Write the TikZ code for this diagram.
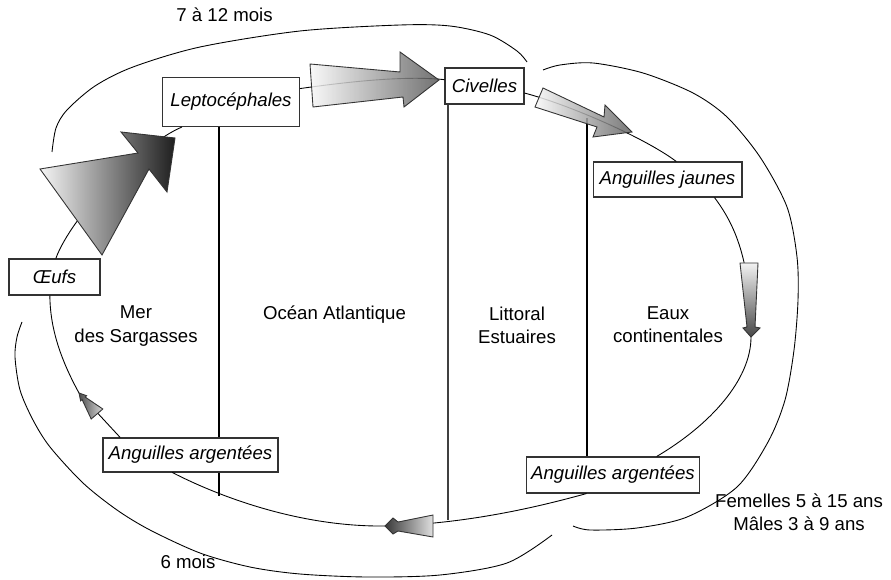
\documentclass[tikz,border=0pt]{standalone}
\usepackage{fontspec}
\setmainfont{Liberation Sans}
\usetikzlibrary{calc}

\newcommand{\labelsize}{\fontsize{10.6}{13.2}\selectfont}

\begin{document}
\begin{tikzpicture}[x=0.02cm,y=-0.02cm]
\tikzset{
  stagebox/.style={draw=black!80,line width=0.6pt,fill=white,inner sep=1pt,font=\labelsize\itshape},
  zonelabel/.style={align=center,font=\labelsize,inner sep=0pt},
  flowedge/.style={draw=black,line width=0.5pt},
  timeline/.style={draw=black,line width=0.5pt},
  zoneline/.style={draw=black,line width=1pt},
  coastline/.style={draw=black!75,line width=0.7pt},
  fatarrow/.style={draw=black!80,line width=0.5pt,line join=miter}
}
\useasboundingbox (0,0) rectangle (891,580);
% stages of the cycle
\node[stagebox,minimum width=1.82cm,minimum height=0.72cm] (oeufs) at (54.5,277) {Œufs};
\node[stagebox,minimum width=2.74cm,minimum height=0.98cm] (lepto) at (231,102) {Leptocéphales};
\node[stagebox,minimum width=1.58cm,minimum height=0.72cm] (civelles) at (484.5,86) {Civelles};
\node[stagebox,minimum width=2.98cm,minimum height=0.70cm] (jaunes) at (667.5,179.5) {Anguilles jaunes};
\node[stagebox,minimum width=3.50cm,minimum height=0.68cm] (argL) at (190.5,455) {Anguilles argentées};
\node[stagebox,minimum width=3.46cm,minimum height=0.72cm] (argR) at (613,475) {Anguilles argentées};
% zones
\node[zonelabel] (sargasses) at (136,326) {Mer\\des Sargasses};
\node[zonelabel] (atlantique) at (334.5,315) {Océan Atlantique};
\node[zonelabel] (littoral) at (517,325) {Littoral\\Estuaires};
\node[zonelabel] (continent) at (668,325) {Eaux\\continentales};
% durations
\node[zonelabel] (duree1) at (224.5,15) {7 à 12 mois};
\node[zonelabel] (duree2) at (188,562) {6 mois};
\node[zonelabel] (duree3) at (799,512) {Femelles 5 à 15 ans\\Mâles 3 à 9 ans};
\coordinate (sepA) at (219,496);
\coordinate (sepB) at (448,520);
\coordinate (sepC) at (587,118);
\coordinate (tipD) at (751,337);
\coordinate (tipF) at (385,526);
\coordinate (tipG) at (79,393);
% zone boundaries
\draw[zoneline] (sepA |- lepto.south) -- (sepA |- argL.north);
\draw[zoneline] (sepA |- argL.south) -- (sepA);
\draw[coastline] (sepB |- civelles.south) -- (sepB);
\draw[zoneline] (sepC) -- (sepC |- argR.north);
% time brackets
\draw[timeline] plot[smooth] coordinates {(52,152) (56,128) (67,110) (95,86) (133,67) (200,47) (300,31) (400,25) (450,26) (490,35) (517,51) (527,62)};
\draw[timeline] plot[smooth] coordinates {(543,70) (560,65) (593,63) (643,73) (693,93) (727,117) (760,157) (787,207) (797,257) (798,300) (794,350) (785,400) (768,442) (737,487) (687,517) (637,528) (590,530) (573,526)};
\draw[timeline] plot[smooth] coordinates {(22,322) (17,337) (15,357) (20,390) (33,420) (50,447) (83,483) (117,510) (150,530) (200,553) (250,567) (300,574) (367,577) (440,575) (507,563) (552,535)};
% the cycle
\draw[flowedge] (oeufs.86) .. controls (72,215) and (140,145) .. (lepto.207);
\draw[flowedge] (lepto.11) .. controls (360,80) and (410,76) .. (civelles.171);
\draw[flowedge] (civelles.-10) .. controls (570,105) and (645,138) .. (jaunes.64);
\draw[flowedge] (jaunes.-21) .. controls (735,225) and (751,260) .. (tipD) .. controls (751,380) and (710,425) .. (argR.23);
\draw[flowedge] (argR.-145) .. controls (545,505) and (470,524) .. (tipF) .. controls (300,527) and (220,497) .. (argL.-136);
\draw[flowedge] (argL.166) -- (tipG) .. controls (62,362) and (50,330) .. (oeufs.-104);
% shaded arrows
\draw[fatarrow,left color=black!4,right color=black!88] (40,169) -- (138,153) -- (121,132) -- (175,138) -- (167,192) -- (149,169) -- (102,255) -- cycle;
\draw[fatarrow,left color=black!3,right color=black!65,fill opacity=0.85] (310,64) -- (400,72) -- (400,52) -- (439,80) -- (404,107) -- (403,97) -- (313,107) -- cycle;
\draw[fatarrow,left color=black!3,right color=black!62,fill opacity=0.85] (543,88) -- (604,117) -- (605,105) -- (632,132) -- (593,137) -- (597,127) -- (535,107) -- cycle;
\draw[fatarrow,top color=black!5,bottom color=black!72] (740,263) -- (758,263) -- (755,327) -- (760,328) -- (751,337) -- (743,328) -- (747,327) -- cycle;
\draw[fatarrow,left color=black!78,right color=black!12] (433,515) -- (398,522) -- (393,518) -- (385,526) -- (393,534) -- (398,531) -- (433,537) -- cycle;
\draw[fatarrow,left color=black!70,right color=black!15] (102.8,409) -- (85.1,397) -- (86.6,395.7) -- (79,393) -- (80.6,400.9) -- (82.1,399.6) -- (91.2,419) -- cycle;
\end{tikzpicture}
\end{document}
